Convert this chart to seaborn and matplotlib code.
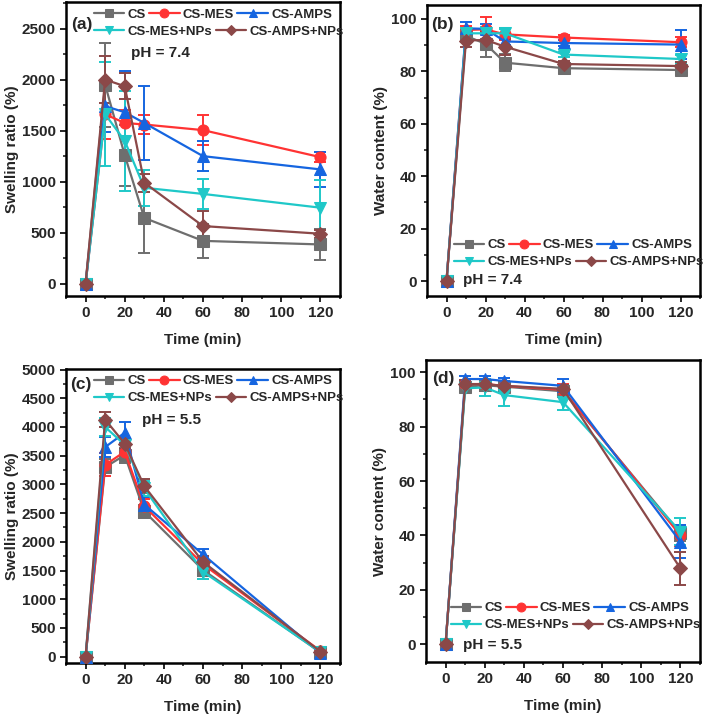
import numpy as np
import pandas as pd
import matplotlib
matplotlib.use("Agg")
import matplotlib.pyplot as plt
import seaborn as sns
from matplotlib.ticker import MultipleLocator

sns.set_style("ticks")
plt.rcParams['font.family'] = ['Liberation Sans', 'DejaVu Sans']
plt.rcParams['font.weight'] = 'bold'
plt.rcParams['axes.labelweight'] = 'bold'

# sampling times (min)
time = [0, 10, 20, 30, 60, 120]
samples = ["CS", "CS-MES", "CS-AMPS", "CS-MES+NPs", "CS-AMPS+NPs"]
colors = ["#6e6e6e", "#ff3333", "#1565e0", "#1fc8c8", "#8b4848"]
markers = ["s", "o", "^", "v", "D"]

# (a) swelling ratio, pH 7.4
sw74 = {
    "CS":          [0, 1950, 1260, 645, 420, 385],
    "CS-MES":      [0, 1660, 1575, 1560, 1505, 1240],
    "CS-AMPS":     [0, 1740, 1680, 1575, 1250, 1120],
    "CS-MES+NPs":  [0, 1660, 1400, 940, 880, 745],
    "CS-AMPS+NPs": [0, 2000, 1935, 990, 565, 490],
}
sw74_err = {
    "CS":          [0, 410, 300, 345, 163, 155],
    "CS-MES":      [0, 240, 130, 95, 150, 50],
    "CS-AMPS":     [0, 250, 400, 360, 150, 170],
    "CS-MES+NPs":  [0, 510, 490, 175, 150, 270],
    "CS-AMPS+NPs": [0, 230, 125, 90, 145, 40],
}

# (b) water content, pH 7.4
wc74 = {
    "CS":          [0, 93.5, 90.5, 83.3, 81.2, 80.5],
    "CS-MES":      [0, 95.8, 96.0, 94.1, 92.9, 91.1],
    "CS-AMPS":     [0, 96.4, 96.2, 91.4, 90.8, 90.2],
    "CS-MES+NPs":  [0, 94.5, 94.5, 94.5, 86.4, 84.7],
    "CS-AMPS+NPs": [0, 91.7, 92.0, 89.4, 82.8, 82.0],
}
wc74_err = {
    "CS":          [0, 2.5, 5.0, 3.2, 1.0, 2.0],
    "CS-MES":      [0, 1.5, 4.8, 2.3, 1.0, 2.0],
    "CS-AMPS":     [0, 2.5, 2.0, 1.5, 1.0, 5.5],
    "CS-MES+NPs":  [0, 2.0, 2.5, 1.5, 1.0, 1.5],
    "CS-AMPS+NPs": [0, 2.3, 3.0, 3.0, 1.0, 1.5],
}

# (c) swelling ratio, pH 5.5
sw55 = {
    "CS":          [0, 3300, 3510, 2530, 1510, 75],
    "CS-MES":      [0, 3340, 3570, 2620, 1610, 100],
    "CS-AMPS":     [0, 3650, 3900, 2650, 1780, 60],
    "CS-MES+NPs":  [0, 4000, 3690, 2930, 1480, 80],
    "CS-AMPS+NPs": [0, 4130, 3710, 2970, 1650, 90],
}
sw55_err = {
    "CS":          [0, 150, 130, 120, 110, 40],
    "CS-MES":      [0, 200, 120, 130, 100, 40],
    "CS-AMPS":     [0, 180, 180, 130, 90, 40],
    "CS-MES+NPs":  [0, 150, 120, 130, 120, 40],
    "CS-AMPS+NPs": [0, 130, 100, 120, 110, 40],
}

# (d) water content, pH 5.5
wc55 = {
    "CS":          [0, 94.7, 95.2, 94.7, 93.0, 40.8],
    "CS-MES":      [0, 95.6, 95.7, 95.0, 93.5, 40.0],
    "CS-AMPS":     [0, 97.5, 97.5, 96.8, 95.0, 37.7],
    "CS-MES+NPs":  [0, 94.1, 94.4, 91.6, 89.0, 41.4],
    "CS-AMPS+NPs": [0, 95.7, 95.6, 95.0, 93.9, 27.9],
}
wc55_err = {
    "CS":          [0, 1.5, 2.0, 2.0, 2.0, 3.0],
    "CS-MES":      [0, 1.5, 1.5, 1.5, 2.0, 4.0],
    "CS-AMPS":     [0, 1.2, 1.2, 1.2, 2.5, 6.0],
    "CS-MES+NPs":  [0, 1.5, 3.0, 4.0, 3.0, 5.0],
    "CS-AMPS+NPs": [0, 1.5, 1.5, 1.5, 1.5, 6.0],
}

W, H = 714, 721
fig = plt.figure(figsize=(W / 100, H / 100), dpi=100)


def px_axes(l, t, r, b):
    return fig.add_axes([l / W, 1 - b / H, (r - l) / W, (b - t) / H])


def panel(ax, vals, errs, ylim, ymaj, ymin, ylabel):
    for s, c, m in zip(samples, colors, markers):
        ax.errorbar(time, vals[s], yerr=errs[s], fmt="none", ecolor=c,
                    elinewidth=1.4, capsize=4, capthick=1.4, zorder=2)
        sns.lineplot(x=time, y=vals[s], ax=ax, color=c, marker=m,
                     markersize=8 if m != "D" else 7, markeredgecolor=c,
                     linewidth=1.6, label=s, zorder=3)
    ax.set_xlim(-10, 130)
    ax.set_ylim(*ylim)
    ax.xaxis.set_major_locator(MultipleLocator(20))
    ax.xaxis.set_minor_locator(MultipleLocator(10))
    ax.yaxis.set_major_locator(MultipleLocator(ymaj))
    ax.yaxis.set_minor_locator(MultipleLocator(ymin))
    ax.tick_params(which="major", direction="out", length=4, width=1.4, labelsize=11)
    ax.tick_params(which="minor", direction="out", length=2.5, width=1.2)
    for sp in ax.spines.values():
        sp.set_linewidth(1.8)
        sp.set_color("black")
    ax.set_xlabel("Time (min)", fontsize=11, fontweight="bold", labelpad=9)
    ax.set_ylabel(ylabel, fontsize=11, fontweight="bold", labelpad=2)
    for lab in ax.get_xticklabels() + ax.get_yticklabels():
        lab.set_fontweight("bold")
    ax.get_legend().remove()


def legends(ax, x, y1, y2):
    h, l = ax.get_legend_handles_labels()
    kw = dict(frameon=False, handlelength=2.3, handletextpad=0.25, markerscale=0.8,
              columnspacing=0.25, borderpad=0, borderaxespad=0, loc="center left",
              bbox_transform=fig.transFigure, prop={"weight": "bold", "size": 9.5})
    lg1 = ax.legend(h[:3], l[:3], ncol=3, bbox_to_anchor=(x / W, 1 - y1 / H), **kw)
    ax.add_artist(lg1)
    ax.legend(h[3:], l[3:], ncol=2, bbox_to_anchor=(x / W, 1 - y2 / H), **kw)


def label(ax, x, y, s, size):
    fig.text(x / W, 1 - y / H, s, fontsize=size, fontweight="bold", va="center", ha="left")


ax_a = px_axes(66, 2, 340, 296)
panel(ax_a, sw74, sw74_err, (-120, 2760), 500, 250, "Swelling ratio (%)")
legends(ax_a, 94, 15, 32)
label(ax_a, 71, 25, "(a)", 12.5)
label(ax_a, 131, 53, "pH = 7.4", 11)

ax_b = px_axes(427, 5, 700, 296)
panel(ax_b, wc74, wc74_err, (-5.7, 105.3), 20, 10, "Water content (%)")
legends(ax_b, 454, 245, 262)
label(ax_b, 431, 25, "(b)", 12.5)
label(ax_b, 463, 280, "pH = 7.4", 11)

ax_c = px_axes(66, 369, 340, 663)
panel(ax_c, sw55, sw55_err, (-110, 5010), 500, 250, "Swelling ratio (%)")
legends(ax_c, 94, 381, 398)
label(ax_c, 70, 385, "(c)", 12.5)
label(ax_c, 142, 420, "pH = 5.5", 11)

ax_d = px_axes(426, 360, 700, 662)
panel(ax_d, wc55, wc55_err, (-6.5, 104.5), 20, 10, "Water content (%)")
legends(ax_d, 451, 608, 625)
label(ax_d, 432, 378, "(d)", 12.5)
label(ax_d, 463, 645, "pH = 5.5", 11)

fig.savefig("out.png", dpi=100)
